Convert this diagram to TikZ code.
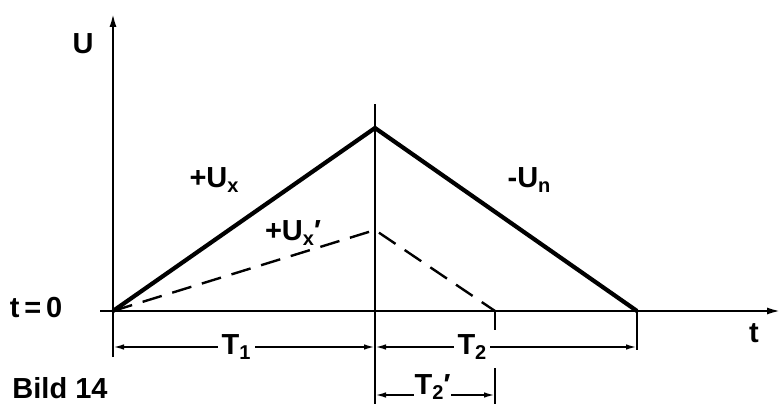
\documentclass[tikz,border=0pt]{standalone}
\usepackage{fontspec}
\setmainfont{Liberation Sans}
\usetikzlibrary{arrows.meta}
\newcommand{\lsub}[1]{\raisebox{-0.35ex}{\fontsize{20}{20}\selectfont #1}}
\begin{document}
\begin{tikzpicture}[x=1pt,y=-1pt,
  lbl/.style={font=\fontsize{29}{32}\selectfont\bfseries, inner sep=0pt},
  axisline/.style={line width=2.4pt},
  signal/.style={line width=4.2pt, line join=miter},
  dashsignal/.style={line width=2.4pt, dash pattern=on 20pt off 11pt},
  tickline/.style={line width=2.2pt},
  dimline/.style={line width=1.8pt, {Latex[length=11pt,width=5.5pt]}-{Latex[length=11pt,width=5.5pt]}},
  dimlbl/.style={lbl, fill=white, inner xsep=4pt, inner ysep=2pt}]
\useasboundingbox (0,0) rectangle (782,404);
% coordinates
\coordinate (O) at (113,311);
\coordinate (Ytop) at (113,13);
\coordinate (Ybot) at (113,357);
\coordinate (Xstart) at (100,311);
\coordinate (Xend) at (781,311);
\coordinate (P) at (375,128);
\coordinate (Pd) at (375,230);
\coordinate (Vtop) at (375,104);
\coordinate (Vbot) at (375,404);
\coordinate (E) at (637,311);
\coordinate (Ed) at (495,311);
\coordinate (Et) at (637,350);
\coordinate (Edt) at (495,330);
\coordinate (Edb1) at (495,368);
\coordinate (Edb2) at (495,404);
\coordinate (D1a) at (113,347);
\coordinate (D1b) at (375,347);
\coordinate (D2b) at (637,347);
\coordinate (D3a) at (375,395);
\coordinate (D3b) at (495,395);
% axes
\draw[axisline,-{Latex[length=14pt,width=7pt]}] (Ybot) -- (Ytop);
\draw[axisline,-{Latex[length=14pt,width=7pt]}] (Xstart) -- (Xend);
\draw[axisline] (Vtop) -- (Vbot);
% signals
\draw[signal] (O) -- (P) -- (E);
\draw[dashsignal] (O) -- (Pd) -- (Ed);
% ticks
\draw[tickline] (E) -- (Et);
\draw[tickline] (Ed) -- (Edt);
\draw[tickline] (Edb1) -- (Edb2);
% dimensions
\draw[dimline] (D1a) -- (D1b) node[dimlbl, pos=0.47] (T1) {T\lsub{1}};
\draw[dimline] (D1b) -- (D2b) node[dimlbl, pos=0.37] (T2) {T\lsub{2}};
\draw[dimline] (D3a) -- (D3b) node[dimlbl, pos=0.48, inner xsep=1pt, yshift=8pt, inner ysep=0pt] (T2p) {T\lsub{2}′};
% labels
\node[lbl] (U) at (83,44) {U};
\node[lbl] (t0) at (36,308) {t\,=\,0};
\node[lbl] (t) at (754,333) {t};
\node[lbl] (bild) at (60,388) {Bild 14};
\node[lbl] (Ux) at (214,180) {+U\lsub{x}};
\node[lbl] (Uxp) at (293,233) {+U\lsub{x}′};
\node[lbl] (Un) at (529,180) {-U\lsub{n}};
\end{tikzpicture}
\end{document}
